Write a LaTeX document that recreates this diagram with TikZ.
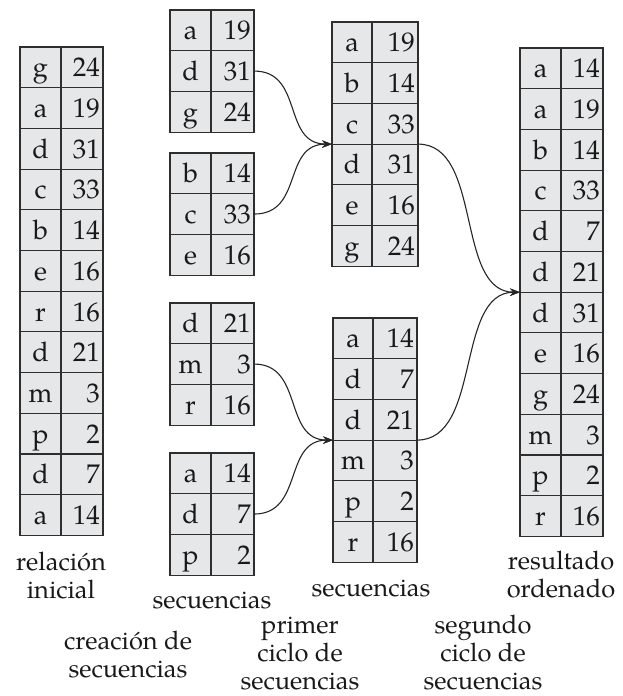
\documentclass[tikz,border=0pt]{standalone}
\usepackage{fontspec}
\setmainfont{TeX Gyre Pagella}
\usetikzlibrary{arrows.meta}
\definecolor{cellgray}{HTML}{E6E7E8}
\definecolor{linegray}{HTML}{2E2E2E}
\tikzset{
  cellbox/.style={draw=linegray, fill=cellgray, line width=1.1pt, rectangle,
    inner sep=0pt, outer sep=0pt, minimum height=40.7pt},
  celltext/.style={inner sep=0pt, font=\fontsize{27}{30}\selectfont, text=black!90},
  lbl/.style={inner sep=0pt, align=center, anchor=base, font=\fontsize{25.5}{27.8}\selectfont, text=black!90},
  conn/.style={draw=black!85, line width=1.1pt, -{Stealth[length=10pt,width=7.5pt]}}
}
\newcommand\runblock[6]{%
  \foreach \l/\n [count=\i] in {#6}{
    \node[cellbox, minimum width=#3pt, anchor=north west] (#1l\i) at (#2, {#5+(\i-1)*40.7}) {};
    \node[cellbox, minimum width=#4pt, anchor=north west] (#1n\i) at (#1l\i.north east) {};
    \node[celltext, anchor=base] (#1lt\i) at ([yshift=-9.5pt]#1l\i.center) {\l};
    \node[celltext, anchor=base east] (#1nt\i) at ([xshift=-3pt,yshift=-9.5pt]#1n\i.east) {\n};
  }}
\begin{document}
\begin{tikzpicture}[x=1pt,y=-1pt]
\useasboundingbox (0,0) rectangle (622,696);
\runblock{L}{20}{41}{42}{47}{g/24,a/19,d/31,c/33,b/14,e/16,r/16,d/21,m/3,p/2,d/7,a/14}
\runblock{Ba}{170}{41}{43}{10}{a/19,d/31,g/24}
\runblock{Bb}{170}{41}{43}{153}{b/14,c/33,e/16}
\runblock{Bc}{170}{41}{43}{303}{d/21,m/3,r/16}
\runblock{Bd}{170}{41}{43}{453}{a/14,d/7,p/2}
\runblock{Ma}{332}{40}{46}{22}{a/19,b/14,c/33,d/31,e/16,g/24}
\runblock{Mb}{333}{40}{44}{318}{a/14,d/7,d/21,m/3,p/2,r/16}
\runblock{R}{520}{41}{42}{48}{a/14,a/19,b/14,c/33,d/7,d/21,d/31,e/16,g/24,m/3,p/2,r/16}

\draw[conn] (Ban2.east) .. controls +(50,0) and +(-50,0) .. (Mal4.north west);
\draw[conn] (Bbn2.east) .. controls +(50,0) and +(-50,0) .. (Mal4.north west);
\draw[conn] (Bcn2.east) .. controls +(50,0) and +(-50,0) .. (Mbl4.north west);
\draw[conn] (Bdn2.east) .. controls +(50,0) and +(-50,0) .. (Mbl4.north west);
\draw[conn] (Man4.north east) .. controls +(65,0) and +(-65,0) .. (Rl7.north west);
\draw[conn] (Mbn4.north east) .. controls +(65,0) and +(-65,0) .. (Rl7.north west);

\node[lbl] (t1) at (61,598) {relación\\inicial};
\node[lbl] (t2) at (561,597) {resultado\\ordenado};
\node[lbl] (t3) at (212,608) {secuencias};
\node[lbl] (t4) at (371,596) {secuencias};
\node[lbl] (t5) at (128,677) {creación de\\secuencias};
\node[lbl] (t6) at (300,689) {primer\\ciclo de\\secuencias};
\node[lbl] (t7) at (483,689) {segundo\\ciclo de\\secuencias};
\end{tikzpicture}
\end{document}
